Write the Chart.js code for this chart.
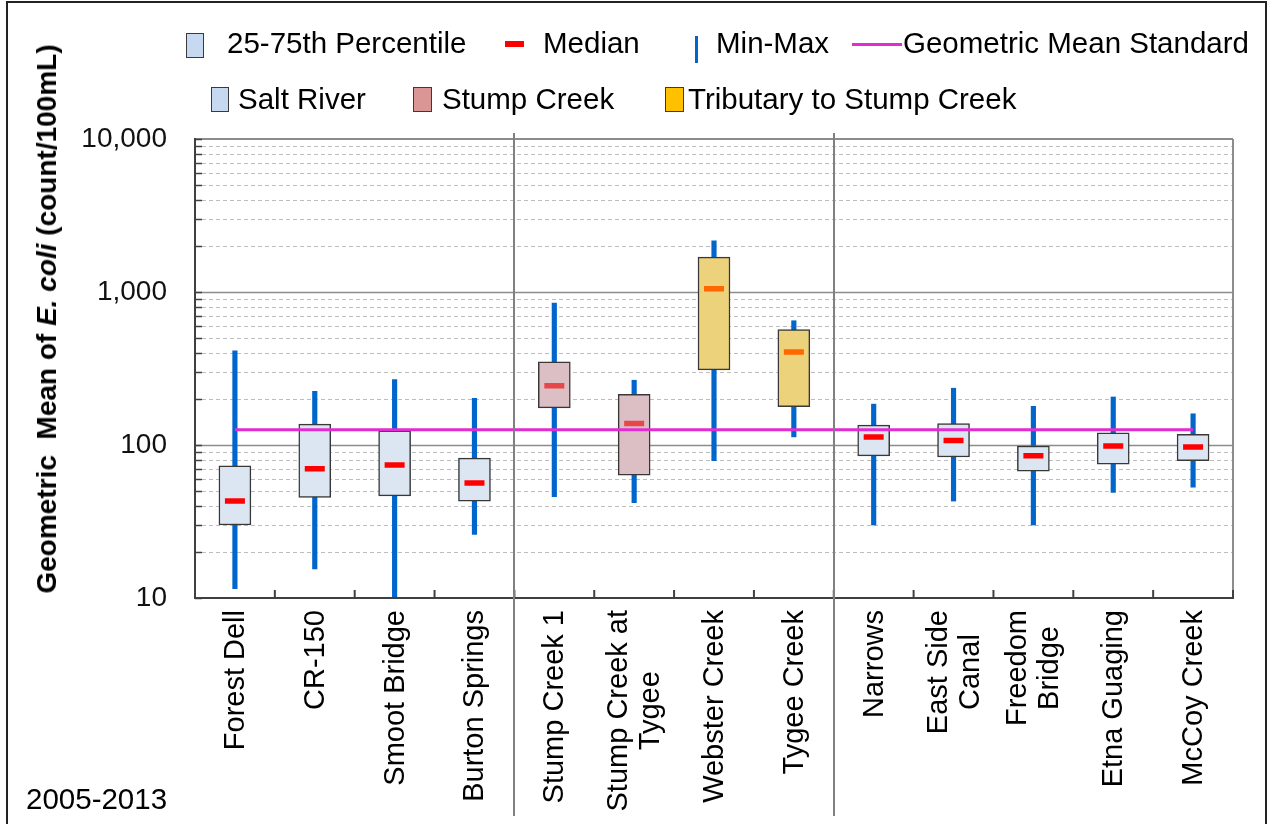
<!DOCTYPE html>
<html>
<head>
<meta charset="utf-8">
<script src="https://cdn.jsdelivr.net/npm/chart.js@4.4.0/dist/chart.umd.min.js"></script>
<style>
  body { margin: 0; background: #fff; }
  #wrap { position: relative; width: 1273px; height: 824px; font-family: "Liberation Sans", Arial, sans-serif; color: #000; }
  #wrap canvas { position: absolute; left: 0; top: 0; }
  .txt { position: absolute; font-size: 29.5px; line-height: 29px; white-space: nowrap; }
  .sw { position: absolute; box-sizing: border-box; border: 1.5px solid #3a3a3a; }
  .mk { position: absolute; }
  #ytitle { position: absolute; left: 47px; top: 319px; font-size: 28px; line-height: 28px; font-weight: bold;
            white-space: nowrap; transform: translate(-50%, -50%) rotate(-90deg); }
  #frame { position: absolute; left: 6px; top: 1px; width: 1261px; height: 840px; border: 2px solid #222; box-sizing: border-box; pointer-events: none; }
</style>
</head>
<body>
<div id="wrap">
  <canvas id="chart"></canvas>

  <div class="sw" style="left:186px;top:33px;width:18px;height:25px;background:#c6d9f1"></div>
  <div class="txt" style="left:227px;top:28px">25-75th Percentile</div>
  <div class="mk" style="left:505px;top:41px;width:19px;height:6px;background:#ff0000"></div>
  <div class="txt" style="left:543px;top:28px">Median</div>
  <div class="mk" style="left:695px;top:36px;width:3px;height:27px;background:#0066cc"></div>
  <div class="txt" style="left:716px;top:28px">Min-Max</div>
  <div class="mk" style="left:852px;top:43px;width:50px;height:3px;background:#e22bd2"></div>
  <div class="txt" style="left:903px;top:28px">Geometric Mean Standard</div>

  <div class="sw" style="left:211px;top:87px;width:18px;height:25px;background:#c6d9f1"></div>
  <div class="txt" style="left:238px;top:84px">Salt River</div>
  <div class="sw" style="left:413px;top:87px;width:19px;height:25px;background:#da9694"></div>
  <div class="txt" style="left:442px;top:84px">Stump Creek</div>
  <div class="sw" style="left:665px;top:87px;width:19px;height:25px;background:#ffc000"></div>
  <div class="txt" style="left:688px;top:84px">Tributary to Stump Creek</div>

  <div id="ytitle">Geometric&nbsp; Mean of <i>E. coli</i> (count/100mL)</div>
  <div class="txt" style="left:26px;top:784px">2005-2013</div>
  <div id="frame"></div>
</div>

<script>
// sites, left to right
const sites = ['Forest Dell', 'CR-150', 'Smoot Bridge', 'Burton Springs', 'Stump Creek 1',
  ['Stump Creek at', 'Tygee'], 'Webster Creek', 'Tygee Creek', 'Narrows', ['East Side', 'Canal'],
  ['Freedom', 'Bridge'], 'Etna Guaging', 'McCoy Creek'];
// 0 = Salt River, 1 = Stump Creek, 2 = Tributary to Stump Creek
const siteGroup = [0, 0, 0, 0, 1, 1, 2, 2, 0, 0, 0, 0, 0];
// last site of each section (vertical dividers)
const sectionEnds = [3, 7];

const minVals = [11.5, 15.5, 9.5, 26, 46, 42, 79, 113, 30, 43, 30, 49, 53];
const q1Vals = [30, 45.5, 46.5, 43, 175, 63.5, 310, 178, 85, 83.5, 67.5, 75, 79];
const medianVals = [43, 70, 74, 56.5, 244, 138, 1050, 405, 113, 107, 85, 98.5, 97];
const q3Vals = [73, 137, 124, 82, 350, 214, 1690, 567, 135, 138, 98.5, 120, 117.5];
const maxVals = [413, 224, 268, 202, 847, 265, 2160, 649, 185, 235, 179, 206, 160];
const geoMeanStd = [126, 126, 126, 126, 126, 126, 126, 126, 126, 126, 126, 126, 126];

const yGridValues = [10, 20, 30, 40, 50, 60, 70, 80, 90, 100, 200, 300, 400, 500, 600, 700, 800, 900,
  1000, 2000, 3000, 4000, 5000, 6000, 7000, 8000, 9000, 10000];
const yLabelValues = [10, 100, 1000, 10000];
const yLabelText = ['10', '100', '1,000', '10,000'];

const boxFill = ['#dce6f2', '#dbbfc5', '#edd27c'];
const medianColor = ['#ff0000', '#e8474a', '#ff6600'];
const FONT = '"Liberation Sans", Arial, sans-serif';

function seg(ctx, x1, y1, x2, y2) {
  ctx.beginPath(); ctx.moveTo(x1, y1); ctx.lineTo(x2, y2); ctx.stroke();
}

const decorations = {
  id: 'decorations',
  beforeDatasetsDraw(chart) {
    const { ctx, chartArea: a, scales: { y } } = chart;
    ctx.save();
    y.ticks.forEach(t => {
      if (t.value <= y.min || t.value >= y.max) return;
      const py = Math.round(y.getPixelForValue(t.value)) + 0.5;
      const major = yLabelValues.includes(t.value);
      ctx.setLineDash(major ? [] : [4, 3]);
      ctx.lineWidth = major ? 1.5 : 1;
      ctx.strokeStyle = major ? '#8c8c8c' : '#bdbdbd';
      seg(ctx, a.left, py, a.right, py);
    });
    ctx.restore();
  },
  afterDatasetsDraw(chart) {
    const { ctx, chartArea: a, scales: { x, y } } = chart;
    ctx.save();
    // plot frame
    ctx.lineWidth = 2;
    ctx.strokeStyle = '#8c8c8c';
    seg(ctx, a.left, a.top, a.right, a.top);
    seg(ctx, a.right, a.top, a.right, a.bottom);
    ctx.strokeStyle = '#404040';
    seg(ctx, a.left, a.top - 1, a.left, a.bottom + 1);
    seg(ctx, a.left - 1, a.bottom, a.right + 1, a.bottom);
    // inner ticks
    ctx.lineWidth = 1.5;
    y.ticks.forEach(t => {
      const py = Math.round(y.getPixelForValue(t.value)) + 0.5;
      seg(ctx, a.left, py, a.left + 7, py);
    });
    ctx.lineWidth = 2;
    sites.forEach((s, i) => {
      const px = x.getPixelForValue(i + 0.5);
      seg(ctx, px, a.bottom, px, a.bottom - 8);
    });
    // section dividers
    ctx.strokeStyle = '#808080';
    sectionEnds.forEach(i => {
      const px = Math.round(x.getPixelForValue(i + 0.5));
      seg(ctx, px, a.top - 6, px, 816);
    });
    // rotated site names, lines centred on each other, block hung from the axis
    ctx.fillStyle = '#000';
    ctx.font = '29px ' + FONT;
    ctx.textAlign = 'center';
    ctx.textBaseline = 'middle';
    sites.forEach((lab, i) => {
      const lines = Array.isArray(lab) ? lab : [lab];
      const cx = x.getPixelForValue(i);
      const w = Math.max(...lines.map(l => ctx.measureText(l).width));
      lines.forEach((ln, j) => {
        const off = (j - (lines.length - 1) / 2) * 32;
        ctx.save();
        ctx.translate(cx + off + 1, a.bottom + 12 + w / 2);
        ctx.rotate(-Math.PI / 2);
        ctx.fillText(ln, 0, 0);
        ctx.restore();
      });
    });
    ctx.restore();
  }
};

new Chart(document.getElementById('chart'), {
  type: 'bar',
  data: {
    labels: sites,
    datasets: [
      {
        type: 'line', label: 'Median', data: medianVals, showLine: false,
        pointStyle: 'line', pointRadius: 10, pointHoverRadius: 10, pointBorderWidth: 5.5,
        pointBorderColor: siteGroup.map(g => medianColor[g]), order: 0
      },
      {
        type: 'line', label: 'Geometric Mean Standard', data: geoMeanStd,
        borderColor: '#e22bd2', borderWidth: 3, pointRadius: 0, order: 1
      },
      {
        label: '25-75th Percentile', data: q1Vals.map((v, i) => [v, q3Vals[i]]),
        backgroundColor: siteGroup.map(g => boxFill[g]), borderColor: '#383838', borderWidth: 1.5,
        borderSkipped: false, barThickness: 32, grouped: false, order: 2
      },
      {
        label: 'Min-Max', data: minVals.map((v, i) => [v, maxVals[i]]),
        backgroundColor: '#0066cc', barThickness: 4.5, grouped: false, order: 3
      }
    ]
  },
  options: {
    responsive: true,
    maintainAspectRatio: false,
    animation: false,
    events: [],
    layout: { padding: { left: 0, top: 139, right: 40, bottom: 0 } },
    plugins: { legend: { display: false }, tooltip: { enabled: false } },
    scales: {
      x: {
        offset: true,
        grid: { display: false, drawTicks: false },
        border: { display: false },
        ticks: { display: false },
        afterFit: s => { s.height = 226; }
      },
      y: {
        type: 'logarithmic',
        min: 10,
        max: 10000,
        afterBuildTicks: s => { s.ticks = yGridValues.map(v => ({ value: v })); },
        grid: { display: false, drawTicks: false },
        border: { display: false },
        ticks: {
          autoSkip: false,
          padding: 28,
          color: '#111',
          font: { size: 28, family: FONT },
          callback: v => {
            const k = yLabelValues.indexOf(v);
            return k >= 0 ? yLabelText[k] : '';
          }
        },
        afterFit: s => { s.width = 195; }
      }
    }
  },
  plugins: [decorations]
});
</script>
</body>
</html>
